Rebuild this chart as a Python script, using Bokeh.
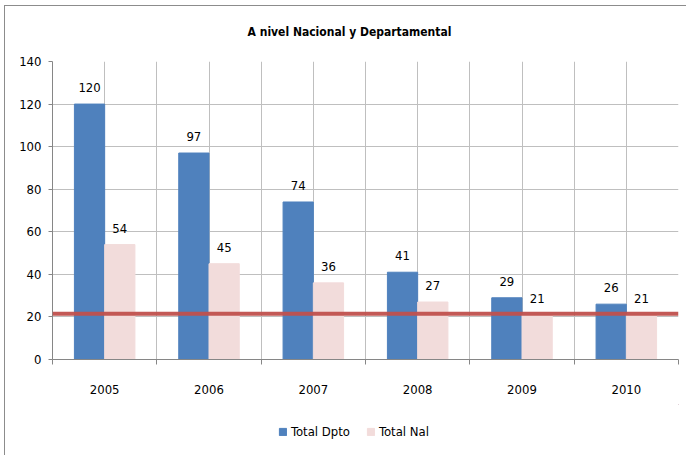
from bokeh.plotting import figure
from bokeh.layouts import column
from bokeh.models import (Range1d, FixedTicker, Span, ColumnDataSource,
                          Legend, LegendItem, Label)
from bokeh.transform import dodge
from bokeh.core.properties import value
from bokeh.embed import file_html
from bokeh.resources import INLINE

years = ["2005", "2006", "2007", "2008", "2009", "2010"]
total_dpto = [120, 97, 74, 41, 29, 26]
total_nal = [54, 45, 36, 27, 21, 21]
reference_line = 21.5
y_ticks = [0, 20, 40, 60, 80, 100, 120, 140]
series_names = ["Total Dpto", "Total Nal"]
title_text = "A nivel Nacional y Departamental"

FONT = "DejaVu Sans Condensed, Roboto"
BLUE = "#4F81BD"
PINK = "#F2DCDB"
RED = "#C0504D"
GRID = "#BFBFBF"
AXIS = "#868686"

xs = [i + 1 for i in range(len(years))]
src = ColumnDataSource(dict(x=xs, dpto=total_dpto, nal=total_nal,
                            dpto_lbl=[str(v) for v in total_dpto],
                            nal_lbl=[str(v) for v in total_nal]))


def strip(height):
    f = figure(width=682, height=height, output_backend="svg", toolbar_location=None,
               x_range=Range1d(-20, -19), y_range=Range1d(-20, -19),
               x_axis_type=None, y_axis_type=None,
               min_border_left=0, min_border_right=0, min_border_top=0,
               min_border_bottom=0)
    f.outline_line_color = None
    f.background_fill_color = "white"
    f.border_fill_color = "white"
    return f


# title strip
p0 = strip(47)
p0.add_layout(Label(x=297, y=22, x_units="screen", y_units="screen",
                    text=title_text, text_align="center", text_baseline="middle",
                    text_font=FONT, text_font_style="bold", text_font_size="12px",
                    text_color="black"))

# main chart
p = figure(width=682, height=351, output_backend="svg", toolbar_location=None,
           x_range=Range1d(0.5, len(years) + 0.5), y_range=Range1d(0, 140),
           min_border_left=47, min_border_right=9, min_border_top=8,
           min_border_bottom=45)
p.outline_line_color = None
p.background_fill_color = "white"
p.border_fill_color = "white"

bw = 0.29
r1 = p.vbar(x=dodge("x", -bw / 2, range=p.x_range), top="dpto", width=bw,
            source=src, fill_color=BLUE, line_color=BLUE)
r2 = p.vbar(x=dodge("x", bw / 2, range=p.x_range), top="nal", width=bw,
            source=src, fill_color=PINK, line_color=PINK)

p.text(x=dodge("x", -bw / 2, range=p.x_range), y="dpto", text="dpto_lbl", source=src,
       text_align="center", text_baseline="bottom", y_offset=-12,
       text_font=value(FONT), text_font_size="13px", text_color="black")
p.text(x=dodge("x", bw / 2, range=p.x_range), y="nal", text="nal_lbl", source=src,
       text_align="center", text_baseline="bottom", y_offset=-12,
       text_font=value(FONT), text_font_size="13px", text_color="black")

p.add_layout(Span(location=reference_line, dimension="width", line_color=RED,
                  line_width=4, line_alpha=0.95))

p.yaxis.ticker = FixedTicker(ticks=y_ticks)
p.yaxis.axis_line_color = AXIS
p.yaxis.major_tick_line_color = AXIS
p.yaxis.major_tick_out = 4
p.yaxis.major_tick_in = 0
p.yaxis.minor_tick_line_color = None
p.yaxis.major_label_standoff = 7
p.yaxis.major_label_text_font = FONT
p.yaxis.major_label_text_font_size = "13px"
p.yaxis.major_label_text_color = "black"

p.xaxis.ticker = FixedTicker(ticks=xs, minor_ticks=[x - 0.5 for x in xs] + [xs[-1] + 0.5])
p.xaxis.major_label_overrides = {x: y for x, y in zip(xs, years)}
p.xaxis.axis_line_color = AXIS
p.xaxis.major_tick_line_color = None
p.xaxis.major_tick_out = 0
p.xaxis.major_tick_in = 0
p.xaxis.minor_tick_line_color = AXIS
p.xaxis.minor_tick_out = 5
p.xaxis.minor_tick_in = 0
p.xaxis.major_label_standoff = 20
p.xaxis.major_label_text_font = FONT
p.xaxis.major_label_text_font_size = "13px"
p.xaxis.major_label_text_color = "black"

p.xgrid.ticker = FixedTicker(ticks=[x - 0.5 for x in xs] + xs + [xs[-1] + 0.5])
p.xgrid.grid_line_color = GRID
p.ygrid.grid_line_color = GRID
p.ygrid.ticker = FixedTicker(ticks=y_ticks)

# legend strip
p2 = strip(52)
l1 = p2.vbar(x="x", top="dpto", width=bw, source=src, fill_color=BLUE, line_color=BLUE)
l2 = p2.vbar(x="x", top="nal", width=bw, source=src, fill_color=PINK, line_color=PINK)
legend = Legend(items=[LegendItem(label=series_names[0], renderers=[l1]),
                       LegendItem(label=series_names[1], renderers=[l2])],
                location=(226, 17), orientation="horizontal",
                glyph_width=9, glyph_height=9, label_standoff=4, spacing=16,
                padding=0, margin=0, border_line_color=None,
                background_fill_alpha=0,
                label_text_font=FONT, label_text_font_size="13px",
                label_text_color="black")
p2.add_layout(legend, "center")

layout = column(p0, p, p2, spacing=0, margin=(5, 0, 0, 4),
                styles={"border-left": "1px solid #8C8C8C", "border-top": "1px solid #8C8C8C"})

open("out.html", "w").write(file_html(layout, INLINE))
